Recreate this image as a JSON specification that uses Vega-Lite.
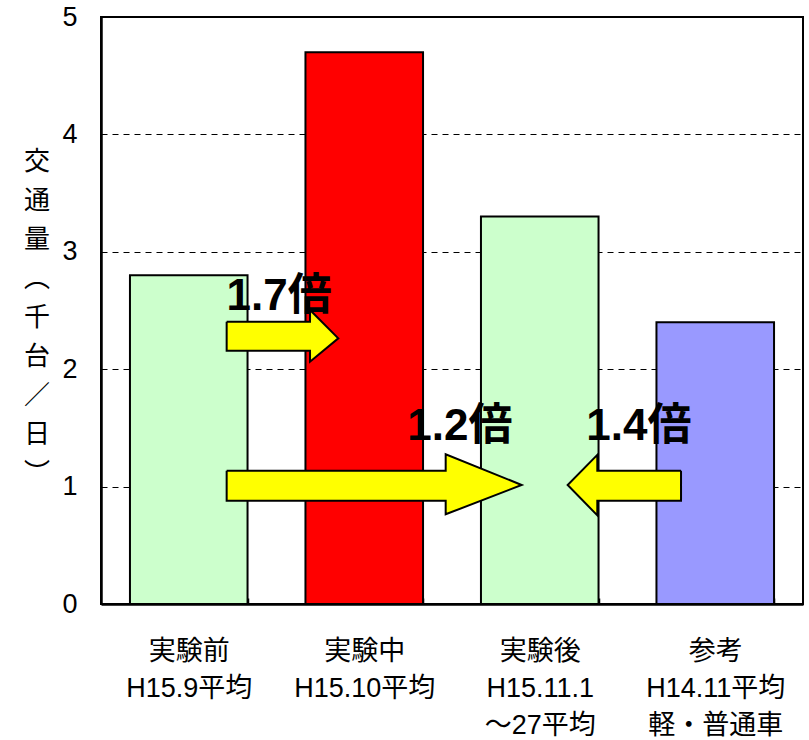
{
  "$schema": "https://vega.github.io/schema/vega-lite/v6.json",
  "width": 702,
  "height": 587,
  "autosize": {"type": "none"},
  "padding": {"left": 101, "top": 17, "right": 6, "bottom": 136},
  "background": "white",
  "config": {
    "view": {"stroke": "black", "strokeWidth": 2},
    "font": "'Liberation Sans', 'Noto Sans CJK JP', sans-serif"
  },
  "datasets": {
    "bars": [
      {"cat": "実験前", "v": 2.8},
      {"cat": "実験中", "v": 4.7},
      {"cat": "実験後", "v": 3.3},
      {"cat": "参考", "v": 2.4}
    ],
    "arrows": [
      {"id": 1, "o": 1, "u": 0.716, "v": 2.405},
      {"id": 1, "o": 2, "u": 1.191, "v": 2.405},
      {"id": 1, "o": 3, "u": 1.191, "v": 2.504},
      {"id": 1, "o": 4, "u": 1.352, "v": 2.263},
      {"id": 1, "o": 5, "u": 1.191, "v": 2.064},
      {"id": 1, "o": 6, "u": 1.191, "v": 2.158},
      {"id": 1, "o": 7, "u": 0.716, "v": 2.158},
      {"id": 1, "o": 8, "u": 0.716, "v": 2.405},
      {"id": 2, "o": 1, "u": 0.716, "v": 1.135},
      {"id": 2, "o": 2, "u": 1.964, "v": 1.135},
      {"id": 2, "o": 3, "u": 1.964, "v": 1.275},
      {"id": 2, "o": 4, "u": 2.397, "v": 1.014},
      {"id": 2, "o": 5, "u": 1.964, "v": 0.764},
      {"id": 2, "o": 6, "u": 1.964, "v": 0.88},
      {"id": 2, "o": 7, "u": 0.716, "v": 0.88},
      {"id": 2, "o": 8, "u": 0.716, "v": 1.135},
      {"id": 3, "o": 1, "u": 3.305, "v": 1.135},
      {"id": 3, "o": 2, "u": 2.828, "v": 1.135},
      {"id": 3, "o": 3, "u": 2.828, "v": 1.27},
      {"id": 3, "o": 4, "u": 2.659, "v": 1.014},
      {"id": 3, "o": 5, "u": 2.828, "v": 0.755},
      {"id": 3, "o": 6, "u": 2.828, "v": 0.88},
      {"id": 3, "o": 7, "u": 3.305, "v": 0.88},
      {"id": 3, "o": 8, "u": 3.305, "v": 1.135}
    ],
    "notes": [
      {"u": 0.715, "v": 2.504, "label": "1.7倍"},
      {"u": 1.745, "v": 1.397, "label": "1.2倍"},
      {"u": 2.765, "v": 1.397, "label": "1.4倍"}
    ]
  },
  "layer": [
    {
      "data": {"name": "bars"},
      "mark": {"type": "bar", "stroke": "black", "strokeWidth": 2},
      "encoding": {
        "x": {
          "field": "cat",
          "type": "nominal",
          "sort": null,
          "scale": {"paddingInner": 0.33, "paddingOuter": 0.165},
          "axis": {
            "title": null,
            "labelAngle": 0,
            "labelFontSize": 27,
            "labelColor": "black",
            "labelLineHeight": 37,
            "labelPadding": 40,
            "labelLimit": 0,
            "labelExpr": "datum.value == '実験前' ? ['実験前','H15.9平均'] : datum.value == '実験中' ? ['実験中','H15.10平均'] : datum.value == '実験後' ? ['実験後','H15.11.1','～27平均'] : datum.value == '参考' ? ['参考','H14.11平均','　軽・普通車'] : ''",
            "tickBand": "extent",
            "tickSize": -6,
            "tickColor": "black",
            "tickWidth": 1.5,
            "domainColor": "black",
            "domainWidth": 2.5,
            "grid": false
          }
        },
        "y": {
          "field": "v",
          "type": "quantitative",
          "scale": {"domain": [0, 5], "nice": false},
          "axis": {
            "values": [0, 1, 2, 3, 4, 5],
            "format": "d",
            "ticks": false,
            "labelFontSize": 27,
            "labelPadding": 24,
            "labelColor": "black",
            "grid": true,
            "gridColor": "black",
            "gridDash": [6, 5],
            "gridWidth": 1,
            "domainColor": "black",
            "domainWidth": 2.5,
            "title": ["交", "通", "量", "︵", "千", "台", "／", "日", "︶"],
            "titleAngle": 0,
            "titleX": -64.5,
            "titleY": 144,
            "titleAlign": "center",
            "titleBaseline": "middle",
            "titleFontSize": 26,
            "titleFontWeight": "normal",
            "titleLineHeight": 39,
            "titleColor": "black"
          }
        },
        "color": {
          "field": "cat",
          "type": "nominal",
          "scale": {"domain": ["実験前", "実験中", "実験後", "参考"], "range": ["#CCFFCC", "#FF0000", "#CCFFCC", "#9999FF"]},
          "legend": null
        }
      }
    },
    {
      "data": {"name": "arrows"},
      "mark": {"type": "line", "fill": "#FFFF00", "stroke": "black", "strokeWidth": 2, "strokeJoin": "miter", "interpolate": "linear"},
      "encoding": {
        "x": {"field": "u", "type": "quantitative", "scale": {"domain": [0, 4], "nice": false, "zero": false}, "axis": null},
        "y": {"field": "v", "type": "quantitative"},
        "detail": {"field": "id"},
        "order": {"field": "o"}
      }
    },
    {
      "data": {"name": "notes"},
      "mark": {"type": "text", "align": "left", "baseline": "alphabetic", "fontSize": 44, "fontWeight": "bold", "color": "black"},
      "encoding": {
        "x": {"field": "u", "type": "quantitative", "scale": {"domain": [0, 4], "nice": false, "zero": false}, "axis": null},
        "y": {"field": "v", "type": "quantitative"},
        "text": {"field": "label"}
      }
    }
  ],
  "resolve": {"scale": {"x": "independent"}}
}
